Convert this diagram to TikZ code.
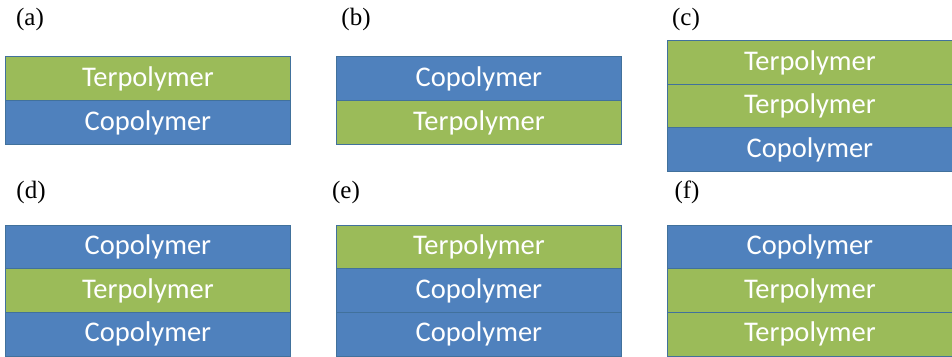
\documentclass[tikz,border=0pt]{standalone}
\usepackage{fontspec}
\setmainfont{Liberation Serif}
\newfontfamily\layerfont{Carlito}
\definecolor{copoblue}{HTML}{4F81BD}
\definecolor{terpgreen}{HTML}{9BBB59}
\definecolor{edgeblue}{HTML}{41719C}
\tikzset{
  layerbox/.style={draw=edgeblue, line width=0.8pt, minimum width=285pt, minimum height=44pt,
    anchor=north west, inner sep=0pt, text height=22pt, text depth=6pt, text=white,
    font=\layerfont\fontsize{28.5}{30}\selectfont},
  copo/.style={layerbox, fill=copoblue},
  terp/.style={layerbox, fill=terpgreen},
  panellabel/.style={inner sep=0pt, font=\fontsize{25}{27}\selectfont}
}
\begin{document}
\begin{tikzpicture}[x=1pt,y=-1pt]
\useasboundingbox (0,0) rectangle (952,356);
% (a)
\node[panellabel] (la) at (30,19) {(a)};
\node[terp] (a1) at (5,56) {Terpolymer};
\node[copo] (a2) at (5,100) {Copolymer};
% (b)
\node[panellabel] (lb) at (356,19) {(b)};
\node[copo] (b1) at (336,56) {Copolymer};
\node[terp] (b2) at (336,100) {Terpolymer};
% (c)
\node[panellabel] (lc) at (686,19) {(c)};
\node[terp] (c1) at (667,40) {Terpolymer};
\node[terp] (c2) at (667,83.5) {Terpolymer};
\node[copo] (c3) at (667,127) {Copolymer};
% (d)
\node[panellabel] (ld) at (31,192) {(d)};
\node[copo] (d1) at (5,224.5) {Copolymer};
\node[terp] (d2) at (5,268) {Terpolymer};
\node[copo] (d3) at (5,311.5) {Copolymer};
% (e)
\node[panellabel] (le) at (346,192) {(e)};
\node[terp] (e1) at (336,224.5) {Terpolymer};
\node[copo] (e2) at (336,268) {Copolymer};
\node[copo] (e3) at (336,311.5) {Copolymer};
% (f)
\node[panellabel] (lf) at (687,192) {(f)};
\node[copo] (f1) at (667,224.5) {Copolymer};
\node[terp] (f2) at (667,268) {Terpolymer};
\node[terp] (f3) at (667,311.5) {Terpolymer};
\end{tikzpicture}
\end{document}
